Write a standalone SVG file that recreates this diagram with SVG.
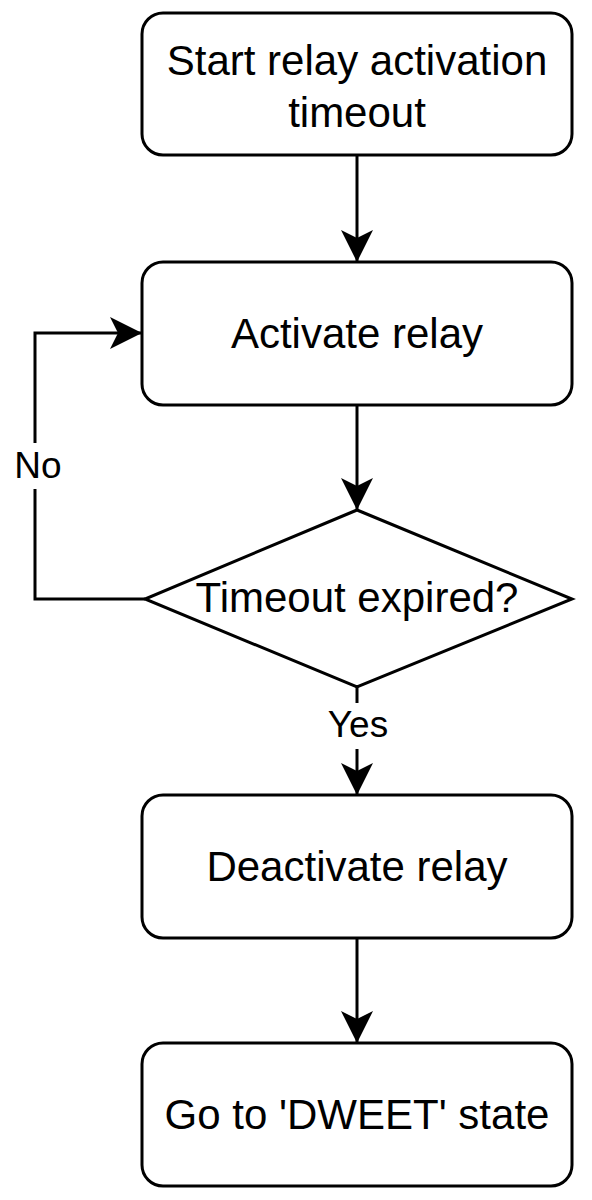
<svg xmlns="http://www.w3.org/2000/svg" width="592" height="1200" viewBox="0 0 592 1200">
  <style>
    .box { fill: #ffffff; stroke: #000000; stroke-width: 3; }
    .edge { fill: none; stroke: #000000; stroke-width: 3; }
    .label { font-family: "Liberation Sans", Arial, sans-serif; font-size: 42px; fill: #000000; text-anchor: middle; }
    .elabel { font-family: "Liberation Sans", Arial, sans-serif; font-size: 37px; fill: #000000; text-anchor: middle; }
    .lblbg { fill: #ffffff; }
  </style>
  <defs>
    <marker id="arrow" markerUnits="userSpaceOnUse" markerWidth="34" markerHeight="32" viewBox="0 0 32 32" refX="31" refY="16" orient="auto">
      <path d="M0,0 L32,16 L0,32 L8,16 Z" fill="#000000"/>
    </marker>
  </defs>
  <rect width="592" height="1200" fill="#ffffff"/>

  <g id="connectors">
    <line class="edge" x1="357" y1="155" x2="357" y2="261" marker-end="url(#arrow)"/>
    <line class="edge" x1="357" y1="405" x2="357" y2="509" marker-end="url(#arrow)"/>
    <path class="edge" d="M145,599 H35 V333 H141" marker-end="url(#arrow)"/>
    <rect class="lblbg" x="12" y="443" width="54" height="46"/>
    <text class="elabel" x="38" y="478">No</text>
    <line class="edge" x1="357" y1="687" x2="357" y2="794" marker-end="url(#arrow)"/>
    <rect class="lblbg" x="322" y="703" width="72" height="46"/>
    <text class="elabel" x="358" y="737">Yes</text>
    <line class="edge" x1="357" y1="938" x2="357" y2="1042" marker-end="url(#arrow)"/>
  </g>

  <g id="start">
    <rect class="box" x="142" y="13" width="430" height="142" rx="21" ry="21"/>
    <text class="label" x="357" y="75">Start relay activation</text>
    <text class="label" x="357" y="127">timeout</text>
  </g>

  <g id="activate">
    <rect class="box" x="142" y="262" width="430" height="143" rx="21" ry="21"/>
    <text class="label" x="357" y="348">Activate relay</text>
  </g>

  <g id="decision">
    <polygon class="box" fill="none" style="fill:none" points="357,510 572,599 357,687 145,599"/>
    <text class="label" x="357" y="612">Timeout expired?</text>
  </g>

  <g id="deactivate">
    <rect class="box" x="142" y="795" width="430" height="143" rx="21" ry="21"/>
    <text class="label" x="357" y="881">Deactivate relay</text>
  </g>

  <g id="dweet">
    <rect class="box" x="142" y="1043" width="430" height="143" rx="21" ry="21"/>
    <text class="label" x="357" y="1129">Go to 'DWEET' state</text>
  </g>
</svg>
